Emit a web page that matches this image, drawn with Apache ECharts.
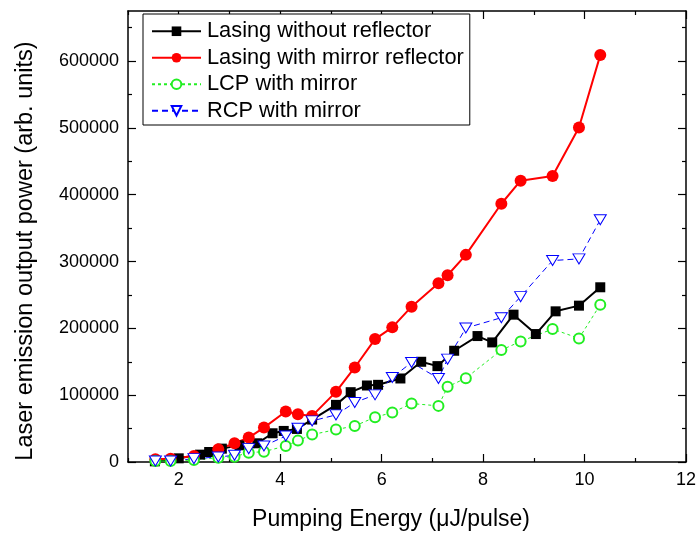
<!DOCTYPE html>
<html>
<head>
<meta charset="utf-8">
<script src="https://cdn.jsdelivr.net/npm/echarts@6/dist/echarts.min.js"></script>
<style>
  html, body { margin: 0; padding: 0; background: #fff; }
  #chart { width: 700px; height: 533px; }
</style>
</head>
<body>
<div id="chart"></div>
<script>
const FONT = 'Liberation Sans, Arial, sans-serif';

// Pumping energy (µJ/pulse) of the run without reflector
const energyNoRefl = [1.53, 2.0, 2.42, 2.6, 2.85, 3.2, 3.55, 3.85, 4.07, 4.33, 4.63, 5.10, 5.39, 5.71, 5.93,
  6.37, 6.78, 7.10, 7.43, 7.89, 8.18, 8.60, 9.04, 9.43, 9.89, 10.31];
const powerNoRefl = [1000, 5500, 11000, 15000, 20000, 25000, 28000, 43000, 46500, 49500, 63500, 85500, 104500,
  114500, 115500, 125000, 150000, 143500, 166500, 188500, 179000, 220500, 191500, 225500, 234000, 261500];

// Pumping energy (µJ/pulse) of the runs with the mirror reflector
const energyMirror = [1.54, 1.84, 2.30, 2.78, 3.10, 3.38, 3.68, 4.11, 4.35, 4.63, 5.10, 5.47, 5.87, 6.21,
  6.59, 7.12, 7.30, 7.66, 8.36, 8.74, 9.37, 9.89, 10.31];
const powerMirror = [4000, 5000, 9000, 19000, 28000, 36500, 51500, 75500, 71500, 69000, 105000, 141500, 184000,
  201500, 232500, 267500, 279500, 310000, 386500, 421000, 428000, 500500, 609000];
const powerLCP = [1500, 1500, 3000, 6500, 8000, 14000, 15500, 24000, 32000, 41000, 48500, 54000, 67000, 74000,
  87500, 84000, 112500, 125500, 167500, 180500, 199000, 185000, 235500];
const powerRCP = [1500, 1500, 5000, 7500, 10000, 20000, 24000, 39000, 50500, 61500, 70500, 89000, 100500,
  126500, 149000, 125000, 154000, 200500, 216000, 247500, 301500, 304000, 362500];

const seriesNames = ['Lasing without reflector', 'Lasing with mirror reflector', 'LCP with mirror', 'RCP with mirror'];

// Axis ticks
const xMajorTicks = [2, 4, 6, 8, 10, 12];
const xMinorTicks = [1, 3, 5, 7, 9, 11];
const yMajorTicks = [0, 100000, 200000, 300000, 400000, 500000, 600000];
const yMinorTicks = [50000, 150000, 250000, 350000, 450000, 550000, 650000];

const xRange = [1, 12];
const yRange = [0, 675000];

const xTitle = 'Pumping Energy (\u03BCJ/pulse)';
const yTitle = 'Laser emission output power (arb. units)';

const zip = (xs, ys) => xs.map((x, i) => [x, ys[i]]);

// One axis per side for the long ticks (+ labels on bottom/left), one more for the short ticks
function makeAxis(range, position, ticks, tickLen, showLine, labels) {
  return {
    type: 'value',
    position: position,
    min: range[0],
    max: range[1],
    axisLine: { show: showLine, onZero: false, lineStyle: { color: '#000', width: 1.5 } },
    axisTick: { show: true, inside: true, length: tickLen, customValues: ticks,
      lineStyle: { color: '#000', width: 1.2 } },
    axisLabel: labels ? {
      show: true, customValues: labels, margin: 9, color: '#000',
      fontFamily: FONT, fontSize: 18,
      formatter: v => String(v)
    } : { show: false },
    splitLine: { show: false },
    minorTick: { show: false },
    minorSplitLine: { show: false }
  };
}

const chart = echarts.init(document.getElementById('chart'), null, { renderer: 'canvas' });

chart.setOption({
  animation: false,
  backgroundColor: '#fff',
  grid: { left: 128, right: 14, top: 11, bottom: 71, containLabel: false },
  xAxis: [
    makeAxis(xRange, 'bottom', xMajorTicks, 8, true, xMajorTicks),
    makeAxis(xRange, 'bottom', xMinorTicks, 4, false, null),
    makeAxis(xRange, 'top', xMajorTicks, 8, true, null),
    makeAxis(xRange, 'top', xMinorTicks, 4, false, null)
  ],
  yAxis: [
    makeAxis(yRange, 'left', yMajorTicks, 8, true, yMajorTicks),
    makeAxis(yRange, 'left', yMinorTicks, 4, false, null),
    makeAxis(yRange, 'right', yMajorTicks, 8, true, null),
    makeAxis(yRange, 'right', yMinorTicks, 4, false, null)
  ],
  legend: {
    orient: 'vertical',
    left: 143,
    top: 14,
    padding: [6, 6, 3, 8],
    itemGap: 4,
    itemWidth: 49,
    itemHeight: 12,
    backgroundColor: '#fff',
    borderColor: '#000',
    borderWidth: 1,
    borderRadius: 0,
    textStyle: { fontFamily: FONT, fontSize: 21.8, color: '#000', lineHeight: 22.5, padding: [0, 0, 0, 1] },
    data: seriesNames
  },
  series: [
    {
      name: seriesNames[0], type: 'line', data: zip(energyNoRefl, powerNoRefl),
      symbol: 'rect', symbolSize: 10,
      lineStyle: { color: '#000', width: 2 },
      itemStyle: { color: '#000' }
    },
    {
      name: seriesNames[1], type: 'line', data: zip(energyMirror, powerMirror),
      symbol: 'circle', symbolSize: 12,
      lineStyle: { color: '#ff0000', width: 2 },
      itemStyle: { color: '#ff0000' }
    },
    {
      name: seriesNames[2], type: 'line', data: zip(energyMirror, powerLCP),
      symbol: 'emptyCircle', symbolSize: 10,
      lineStyle: { color: '#22ee22', width: 1, type: [3, 3] },
      itemStyle: { color: '#22ee22', borderColor: '#22ee22', borderWidth: 1 }
    },
    {
      name: seriesNames[3], type: 'line', data: zip(energyMirror, powerRCP),
      symbol: 'path://M0,0 L12,0 L6,10 Z', symbolSize: [12, 10],
      lineStyle: { color: '#0000ff', width: 1, type: [6, 4] },
      itemStyle: { color: '#fff', borderColor: '#0000ff', borderWidth: 1 }
    }
  ],
  graphic: [
    {
      type: 'text',
      x: 391, y: 520,
      style: { text: xTitle, font: '23px ' + FONT, fill: '#000',
        textAlign: 'center', textVerticalAlign: 'middle' }
    },
    {
      type: 'text',
      x: 26, y: 251, rotation: Math.PI / 2,
      style: { text: yTitle, font: '23.5px ' + FONT, fill: '#000',
        textAlign: 'center', textVerticalAlign: 'middle' }
    }
  ]
});
</script>
</body>
</html>
